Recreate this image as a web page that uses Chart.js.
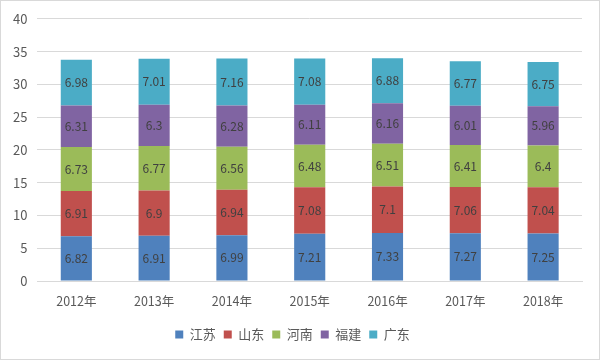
<!DOCTYPE html>
<html>
<head>
<meta charset="utf-8">
<script src="https://cdn.jsdelivr.net/npm/chart.js@4"></script>
<style>
  html, body { margin: 0; padding: 0; background: #fff; }
  #wrap { width: 598px; height: 358px; border: 1px solid #d9d9d9; position: relative; }
</style>
</head>
<body>
<div id="wrap"><canvas id="chart-sheng" width="598" height="358"></canvas></div>
<script>
// 年份
const years = ['2012年', '2013年', '2014年', '2015年', '2016年', '2017年', '2018年'];

// 各省数据
const jiangsu = [6.82, 6.91, 6.99, 7.21, 7.33, 7.27, 7.25];
const shandong = [6.91, 6.9, 6.94, 7.08, 7.1, 7.06, 7.04];
const henan = [6.73, 6.77, 6.56, 6.48, 6.51, 6.41, 6.4];
const fujian = [6.31, 6.3, 6.28, 6.11, 6.16, 6.01, 5.96];
const guangdong = [6.98, 7.01, 7.16, 7.08, 6.88, 6.77, 6.75];

const yTicks = [0, 5, 10, 15, 20, 25, 30, 35, 40];

const fontFam = '"Noto Sans CJK SC", "Liberation Sans", sans-serif';

// 柱子中间写数值
const midLabels = {
  id: 'midLabels',
  afterDatasetsDraw(chart) {
    const ctx = chart.ctx;
    ctx.save();
    ctx.font = '12px ' + fontFam;
    ctx.fillStyle = '#404040';
    ctx.textAlign = 'center';
    ctx.textBaseline = 'middle';
    chart.data.datasets.forEach((ds, i) => {
      const meta = chart.getDatasetMeta(i);
      meta.data.forEach((bar, j) => {
        const mid = (bar.y + bar.base) / 2;
        ctx.fillText(String(ds.data[j]), bar.x, mid);
      });
    });
    ctx.restore();
  }
};

const mkSet = (label, data, color) => ({
  label: label,
  data: data,
  backgroundColor: color,
  borderWidth: 0,
  barPercentage: 0.4,
  categoryPercentage: 1
});

const chartSheng = new Chart(document.getElementById('chart-sheng'), {
  type: 'bar',
  data: {
    labels: years,
    datasets: [
      mkSet('江苏', jiangsu, '#4f81bd'),
      mkSet('山东', shandong, '#c0504d'),
      mkSet('河南', henan, '#9bbb59'),
      mkSet('福建', fujian, '#8064a2'),
      mkSet('广东', guangdong, '#4bacc6')
    ]
  },
  options: {
    responsive: false,
    animation: false,
    layout: { padding: { left: 2, right: 17, top: 12, bottom: 8 } },
    scales: {
      x: {
        stacked: true,
        grid: { display: false },
        border: { color: '#d9d9d9' },
        ticks: { color: '#595959', font: { family: fontFam, size: 12.5 }, padding: 5 },
        afterFit: (axis) => { axis.height += 6; }
      },
      y: {
        stacked: true,
        min: 0,
        max: 40,
        afterBuildTicks: (axis) => { axis.ticks = yTicks.map(v => ({ value: v })); },
        grid: { color: '#d9d9d9', drawTicks: false },
        border: { display: false },
        ticks: { color: '#595959', font: { family: fontFam, size: 13 }, padding: 10 }
      }
    },
    plugins: {
      legend: {
        position: 'bottom',
        labels: {
          color: '#595959',
          font: { family: fontFam, size: 13 },
          boxWidth: 8,
          boxHeight: 8,
          padding: 8
        }
      },
      tooltip: { enabled: false }
    }
  },
  plugins: [midLabels]
});
</script>
</body>
</html>
